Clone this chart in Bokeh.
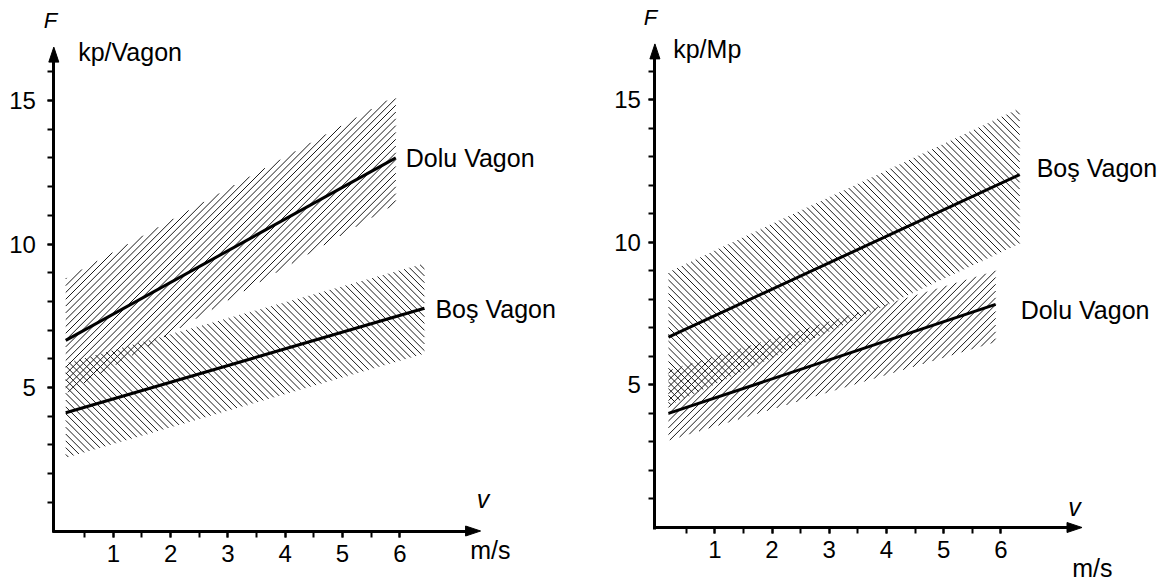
from bokeh.plotting import figure
from bokeh.models import Range1d, LinearAxis, FixedTicker
from bokeh.layouts import row
from bokeh.embed import file_html
from bokeh.resources import INLINE
from bokeh.core.properties import value

FONT = "Liberation Sans"

# ---------------- data ----------------
# Left panel (F in kp/Vagon)
L_DOLU_V = [0.17, 5.93]
L_DOLU_F = [6.64, 13.00]
L_DOLU_LO = [4.79, 11.40]
L_DOLU_HI = [8.80, 15.17]
L_BOS_V = [0.17, 6.43]
L_BOS_F = [4.12, 7.76]
L_BOS_LO = [2.55, 6.18]
L_BOS_HI = [5.84, 9.32]

# Right panel (F in kp/Mp)
R_BOS_V = [0.19, 6.33]
R_BOS_F = [6.67, 12.37]
R_BOS_LO = [4.27, 9.95]
R_BOS_HI = [8.95, 14.69]
R_DOLU_V = [0.19, 5.91]
R_DOLU_F = [4.00, 7.82]
R_DOLU_LO = [3.05, 6.50]
R_DOLU_HI = [5.50, 9.00]

X_TICKS = [1, 2, 3, 4, 5, 6]
X_MINOR = [0.5, 1.0, 1.5, 2.0, 2.5, 3.0, 3.5, 4.0, 4.5, 5.0, 5.5, 6.0]
Y_TICKS = [5, 10, 15]
Y_MINOR = list(range(1, 17))

W, H = 583, 583


def hatch(v, lo, hi, direction, sx, sy, spacing=6.8):
    """45-degree hatch segments clipped to the band between lo and hi."""
    v0, v1 = v
    bl = (lo[1] - lo[0]) / (v1 - v0)
    al = lo[0] - bl * v0
    bh = (hi[1] - hi[0]) / (v1 - v0)
    ah = hi[0] - bh * v0
    k = (sx / sy) * (1 if direction == "/" else -1)
    step = spacing / sy
    cs = [lo[0] - k * v0, lo[1] - k * v1, hi[0] - k * v0, hi[1] - k * v1]
    cmin, cmax = min(cs), max(cs)
    xs, ys = [], []
    c = cmin + step * 0.5
    while c < cmax:
        a, b = v0, v1
        for coef, rhs, ge in ((k - bl, al - c, True), (k - bh, ah - c, False)):
            if abs(coef) < 1e-12:
                continue
            lim = rhs / coef
            if (coef > 0) == ge:
                a = max(a, lim)
            else:
                b = min(b, lim)
        if b > a:
            xs.append([a, b])
            ys.append([c + k * a, c + k * b])
        c += step
    return xs, ys


def make_panel(cfg):
    sx, sy, ox, oy = cfg["sx"], cfg["sy"], cfg["ox"], cfg["oy"]
    p = figure(width=W, height=H,
               x_range=Range1d(-ox / sx, (W - ox) / sx),
               y_range=Range1d(-(H - oy) / sy, oy / sy),
               output_backend="svg", toolbar_location=None,
               x_axis_location=None, y_axis_location=None,
               min_border=0, outline_line_color=None)
    p.grid.visible = False
    p.background_fill_color = "white"
    p.border_fill_color = "white"

    for band in cfg["bands"]:
        xs, ys = hatch(band["v"], band["lo"], band["hi"], band["dir"], sx, sy)
        p.multi_line(xs, ys, line_color="#1a1a1a", line_width=1.0)
    for band in cfg["bands"]:
        p.line(band["v"], band["f"], line_color="black", line_width=3)
        p.text(x=[band["v"][1]], y=[band["f"][1]], text=[band["name"]],
               x_offset=band["dx"], y_offset=band["dy"],
               text_font=value(FONT), text_font_size="25px",
               text_align="left", text_baseline="middle", text_color="black")

    yv = cfg["yaxis_v"]
    common = dict(axis_line_width=3, axis_line_color="black",
                  major_tick_line_width=2, minor_tick_line_width=2,
                  major_tick_out=6, major_tick_in=0,
                  minor_tick_out=6, minor_tick_in=0,
                  major_tick_line_color="black", minor_tick_line_color="black",
                  major_label_text_font=FONT, major_label_text_font_size="24px",
                  major_label_text_color="black")
    yax = LinearAxis(fixed_location=yv, bounds=(-1.5 / sy, cfg["ytip"] - 12 / sy),
                     ticker=FixedTicker(ticks=Y_TICKS, minor_ticks=Y_MINOR),
                     major_label_standoff=cfg["ystand"], **common)
    xax = LinearAxis(fixed_location=0, bounds=(yv - 1.5 / sx, cfg["xtip"] - 12 / sx),
                     ticker=FixedTicker(ticks=X_TICKS, minor_ticks=X_MINOR),
                     major_label_standoff=cfg["xstand"], **common)
    p.add_layout(yax, "left")
    p.add_layout(xax, "below")

    L, Hh = 15, 5
    yt, xt = cfg["ytip"], cfg["xtip"]
    p.patch([yv - Hh / sx, yv, yv + Hh / sx], [yt - L / sy, yt, yt - L / sy], color="black")
    p.patch([xt - L / sx, xt, xt - L / sx], [-Hh / sy, 0, Hh / sy], color="black")

    t = cfg["titles"]
    p.text(x=[t["F"][0]], y=[t["F"][1]], text=["F"], text_font=value(FONT),
           text_font_size="22px", text_font_style="italic",
           text_align="center", text_baseline="middle", text_color="black")
    p.text(x=[t["unit"][0]], y=[t["unit"][1]], text=[cfg["unit"]], text_font=value(FONT),
           text_font_size="25px", text_align="left", text_baseline="middle",
           text_color="black")
    p.text(x=[t["v"][0]], y=[t["v"][1]], text=["v"], text_font=value(FONT),
           text_font_size="25px", text_font_style="italic",
           text_align="center", text_baseline="middle", text_color="black")
    p.text(x=[t["ms"][0]], y=[t["ms"][1]], text=["m/s"], text_font=value(FONT),
           text_font_size="25px", text_align="center", text_baseline="middle",
           text_color="black")
    return p


left_cfg = dict(
    sx=57.3, sy=28.7, ox=55.5, oy=530.5, yaxis_v=-0.038,
    ytip=16.86, xtip=7.41, ystand=12, xstand=8, unit="kp/Vagon",
    titles=dict(F=(-0.096, 17.79), unit=(0.387, 16.70), v=(7.45, 1.13), ms=(7.58, -0.665)),
    bands=[
        dict(name="Dolu Vagon", v=L_DOLU_V, f=L_DOLU_F, lo=L_DOLU_LO, hi=L_DOLU_HI,
             dir="/", dx=10, dy=0),
        dict(name="Boş Vagon", v=L_BOS_V, f=L_BOS_F, lo=L_BOS_LO, hi=L_BOS_HI,
             dir="\\", dx=11, dy=1),
    ],
)

right_cfg = dict(
    sx=57.2, sy=28.53, ox=74.1, oy=527.0, yaxis_v=-0.047,
    ytip=16.95, xtip=7.42, ystand=8, xstand=7, unit="kp/Mp",
    titles=dict(F=(-0.124, 17.88), unit=(0.273, 16.77), v=(7.29, 0.73), ms=(7.60, -1.41)),
    bands=[
        dict(name="Boş Vagon", v=R_BOS_V, f=R_BOS_F, lo=R_BOS_LO, hi=R_BOS_HI,
             dir="\\", dx=17, dy=-7),
        dict(name="Dolu Vagon", v=R_DOLU_V, f=R_DOLU_F, lo=R_DOLU_LO, hi=R_DOLU_HI,
             dir="/", dx=25, dy=6),
    ],
)

layout = row(make_panel(left_cfg), make_panel(right_cfg), spacing=0)
open("out.html", "w").write(file_html(layout, INLINE))
